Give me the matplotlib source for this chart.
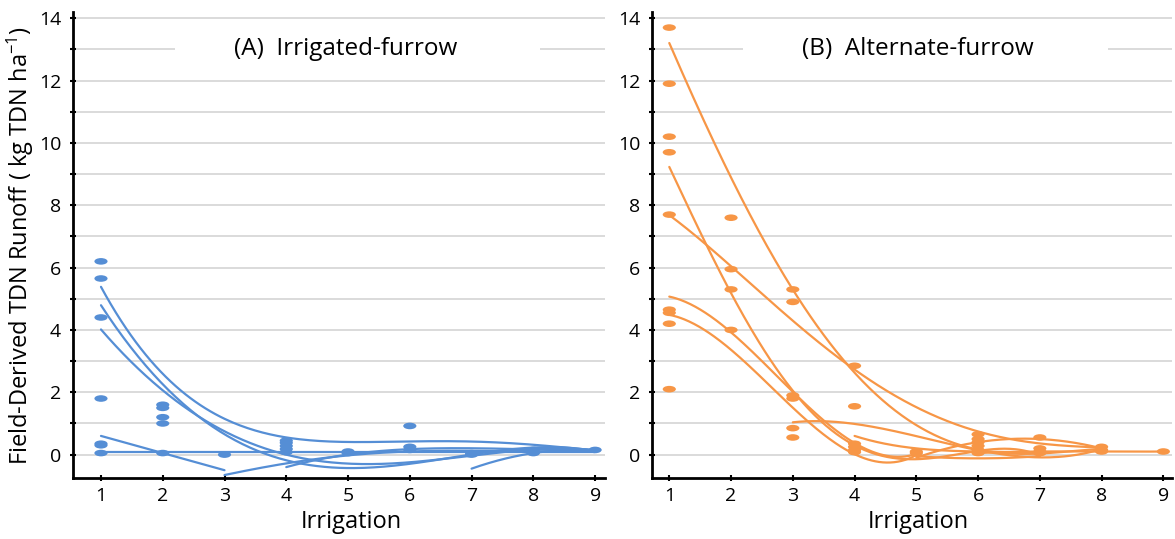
import matplotlib
matplotlib.use('Agg')
import matplotlib.pyplot as plt
import matplotlib.patches as patches
from matplotlib.path import Path
from matplotlib.transforms import Affine2D
import numpy as np

# --- Theme ---
BLUE = '#558ED5'
ORANGE = '#F79646'
GRID = '#d4d4d4'
FONT = 'Open Sans'

plt.rcParams['font.family'] = [FONT, 'DejaVu Sans']
plt.rcParams['mathtext.fontset'] = 'custom'
plt.rcParams['mathtext.rm'] = FONT
plt.rcParams['mathtext.it'] = FONT

# --- Data: observed points (irrigation, runoff) ---
a_pts_x = [1, 1, 1, 1, 1, 1, 1,
           2, 2, 2, 2, 2,
           3,
           4, 4, 4, 4, 4,
           5, 5,
           6, 6, 6,
           7, 7,
           8, 8,
           9]
a_pts_y = [6.2, 5.65, 4.4, 1.8, 0.35, 0.3, 0.05,
           1.6, 1.5, 1.2, 1.0, 0.05,
           0.0,
           0.45, 0.38, 0.28, 0.18, 0.08,
           0.05, 0.1,
           0.92, 0.25, 0.15,
           0.0, 0.05,
           0.05, 0.15,
           0.15]

b_pts_x = [1, 1, 1, 1, 1, 1, 1, 1, 1,
           2, 2, 2, 2,
           3, 3, 3, 3, 3, 3,
           4, 4, 4, 4, 4, 4,
           5, 5,
           6, 6, 6, 6, 6, 6,
           7, 7, 7, 7,
           8, 8, 8,
           9]
b_pts_y = [13.7, 11.9, 10.2, 9.7, 7.7, 4.65, 4.55, 4.2, 2.1,
           7.6, 5.95, 5.3, 4.0,
           5.3, 4.9, 1.9, 1.8, 0.85, 0.55,
           2.85, 1.55, 0.35, 0.25, 0.15, 0.08,
           0.05, 0.1,
           0.65, 0.5, 0.4, 0.28, 0.15, 0.05,
           0.55, 0.2, 0.1, 0.05,
           0.25, 0.15, 0.1,
           0.1]

# --- Data: trend series per plot (values read at each irrigation) ---
a_series = [
    ([1, 2, 3, 4, 5, 6, 7, 8, 9], [5.33, 2.75, 1.07, 0.43, 0.45, 0.55, 0.38, 0.25, 0.17]),
    ([1, 2, 3, 4, 5, 6, 7, 8, 9], [4.77, 2.3, 0.7, -0.3, -0.45, -0.2, 0.05, 0.12, 0.15]),
    ([1, 2, 3, 4, 5, 6, 7, 8, 9], [4.0, 2.1, 0.75, -0.05, -0.3, -0.2, 0.0, 0.1, 0.15]),
    ([1, 2, 3], [0.6, 0.05, -0.5]),
    ([1, 9], [0.07, 0.07]),
    ([3, 4, 5, 6, 7, 8, 9], [-0.65, -0.3, 0.0, 0.1, 0.1, 0.12, 0.15]),
    ([4, 5, 6, 7, 8, 9], [-0.4, 0.0, 0.18, 0.2, 0.17, 0.15]),
    ([7, 8, 9], [-0.45, 0.05, 0.15]),
]

b_series = [
    ([1, 2, 3, 4, 5, 6, 7, 8], [13.2, 8.9, 5.3, 2.6, 0.95, 0.2, 0.0, 0.2]),
    ([1, 2, 3, 4, 5, 6, 7], [9.2, 5.3, 1.9, 0.3, 0.0, 0.0, 0.0]),
    ([1, 2, 3, 4, 5, 6, 7, 8], [7.7, 6.0, 4.3, 2.8, 1.5, 0.65, 0.45, 0.2]),
    ([1, 2, 3, 4, 5], [5.05, 4.0, 1.9, 0.45, 0.0]),
    ([1, 2, 3, 4, 5], [4.45, 3.5, 1.3, 0.15, -0.05]),
    ([3, 4, 5, 6, 7, 8], [1.0, 1.1, 0.5, 0.1, 0.0, 0.15]),
    ([5, 6, 7, 8], [-0.1, 0.4, 0.5, 0.2]),
    ([4, 5, 6, 7], [0.6, 0.2, 0.1, 0.05]),
    ([5, 6, 7], [-0.05, -0.12, -0.05]),
    ([6, 7, 8, 9], [0.05, 0.1, 0.1, 0.1]),
]

IRRIGATION = [1, 2, 3, 4, 5, 6, 7, 8, 9]

# flat ellipse marker
ELLIPSE = Path.unit_circle().transformed(Affine2D().scale(1.0, 0.5))

fig = plt.figure(figsize=(11.75, 5.39), dpi=100)
fig.patch.set_facecolor('white')


def draw_panel(ax, pts_x, pts_y, series, color, title, xlim, xlabel_x):
    ax.set_xlim(*xlim)
    ax.set_ylim(-0.75, 14.2)
    ax.set_xticks(IRRIGATION)
    ax.set_yticks(range(0, 15, 2))
    ax.set_yticks(range(1, 15, 2), minor=True)
    for yv in range(0, 15):
        ax.axhline(yv, color=GRID, lw=1.2, zorder=1)
    # white gap behind the panel title
    ax.add_patch(patches.Rectangle((2.2, 12.75), 5.9, 0.5, facecolor='white',
                                   edgecolor='none', zorder=1.5))
    ax.text(3.15, 13.0, title, ha='left', va='center', fontsize=17.5, zorder=2)

    for sx, sy in series:
        deg = min(4 if len(sx) >= 7 else 3, len(sx) - 1)
        coef = np.polyfit(sx, sy, deg)
        xx = np.linspace(min(sx), max(sx), 200)
        ax.plot(xx, np.polyval(coef, xx), color=color, lw=1.6, zorder=3,
                solid_capstyle='round')
    ax.scatter(pts_x, pts_y, marker=ELLIPSE, s=90, color=color,
               edgecolors='none', zorder=4)

    for side in ('top', 'right'):
        ax.spines[side].set_visible(False)
    for side in ('left', 'bottom'):
        ax.spines[side].set_linewidth(2.0)
    ax.tick_params(which='both', direction='inout', length=5, width=1.5,
                   labelsize=14)
    ax.tick_params(axis='y', pad=6)
    ax.tick_params(axis='x', pad=4)
    ax.set_xlabel('Irrigation', fontsize=17)
    ax.xaxis.set_label_coords(xlabel_x, -0.068)


ax_a = fig.add_axes([73 / 1175, 1 - 478 / 539, 532 / 1175, 466 / 539])
ax_b = fig.add_axes([652 / 1175, 1 - 478 / 539, 520 / 1175, 466 / 539])

draw_panel(ax_a, a_pts_x, a_pts_y, a_series, BLUE, '(A)  Irrigated-furrow',
           (0.547, 9.16), 0.524)
draw_panel(ax_b, b_pts_x, b_pts_y, b_series, ORANGE, '(B)  Alternate-furrow',
           (0.72, 9.14), 0.513)

ax_a.set_ylabel('Field-Derived TDN Runoff ( kg TDN ha$^{-1}$)', fontsize=17, labelpad=2)

fig.savefig('out.png', dpi=100, facecolor='white')
plt.close(fig)
